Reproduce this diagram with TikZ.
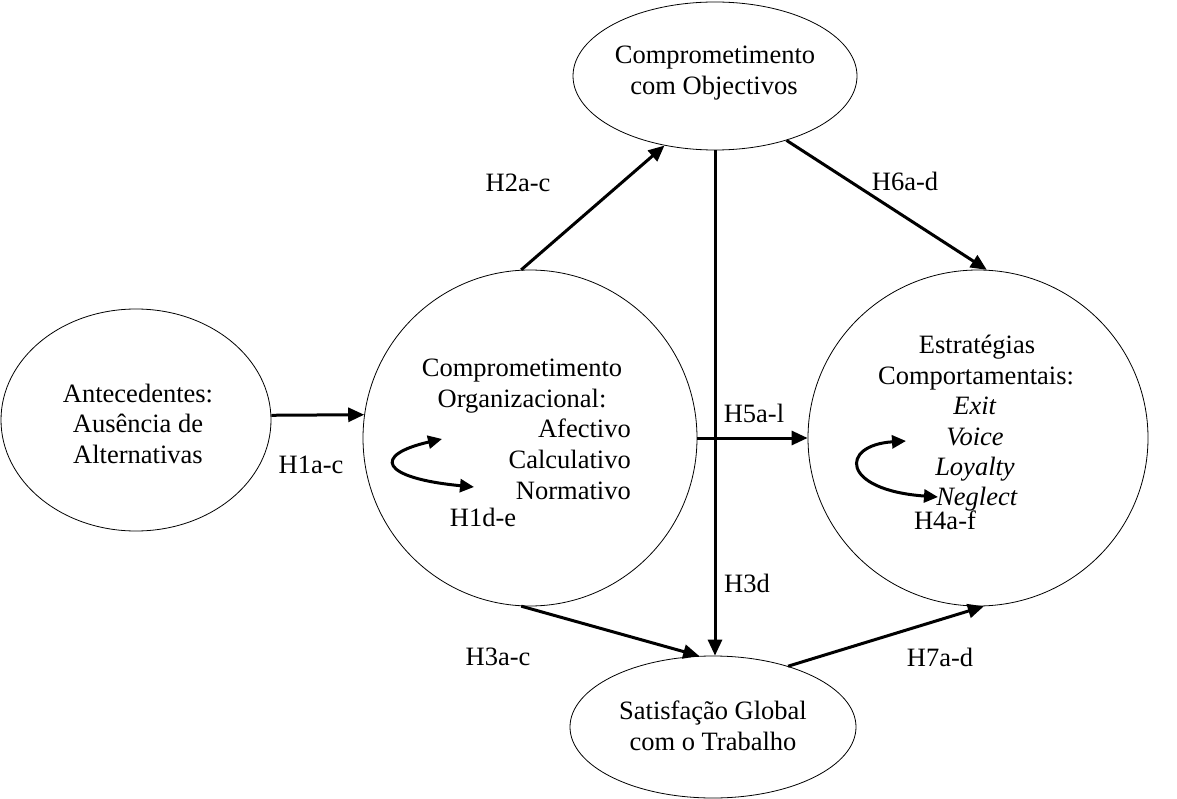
\documentclass[tikz,border=0pt]{standalone}
\usepackage{fontspec}
\setmainfont{Liberation Serif}
\usetikzlibrary{shapes.geometric,arrows.meta}
\begin{document}
\begin{tikzpicture}[x=1pt,y=-1pt,
  bubble/.style={draw, ellipse, line width=0.8pt, inner sep=0pt},
  txt/.style={font=\fontsize{26.5}{31}\selectfont, inner sep=0pt, anchor=base},
  hyp/.style={font=\fontsize{26.5}{31}\selectfont, inner sep=0pt},
  link/.style={line width=3pt, -{Triangle[length=16pt,width=14pt]}},
  swap/.style={line width=3pt, {Triangle[length=14pt,width=13pt]}-{Triangle[length=14pt,width=13pt]}}]
\useasboundingbox (0,0) rectangle (1177,799);

% constructs
\node[bubble, minimum width=270pt, minimum height=222pt] (ante) at (136,420) {};
\node[bubble, minimum width=334pt, minimum height=336pt] (org) at (530,438) {};
\node[bubble, minimum width=284pt, minimum height=148pt] (obj) at (715,76) {};
\node[bubble, minimum width=340pt, minimum height=336pt] (est) at (978,438) {};
\node[bubble, minimum width=286pt, minimum height=142pt] (sat) at (713,727) {};

% texts inside the constructs
\node[txt] (a1) at (138,402) {Antecedentes:};
\node[txt] (a2) at (138,432.5) {Ausência de};
\node[txt] (a3) at (138,463) {Alternativas};

\node[txt] (o1) at (522,376) {Comprometimento};
\node[txt] (o2) at (522,407) {Organizacional:};
\node[txt, anchor=base east] (o3) at (631,437) {Afectivo};
\node[txt, anchor=base east] (o4) at (631,468) {Calculativo};
\node[txt, anchor=base east] (o5) at (631,499) {Normativo};

\node[txt] (c1) at (715,64) {Comprometimento};
\node[txt] (c2) at (714,95) {com Objectivos};

\node[txt] (e1) at (977,353) {Estratégias};
\node[txt] (e2) at (976,384) {Comportamentais:};
\node[txt] (e3) at (975,414) {\textit{Exit}};
\node[txt] (e4) at (975,445) {\textit{Voice}};
\node[txt] (e5) at (975,475) {\textit{Loyalty}};
\node[txt] (e6) at (977,505) {\textit{Neglect}};

\node[txt] (s1) at (713,719) {Satisfação Global};
\node[txt] (s2) at (713,750) {com o Trabalho};

% hypotheses
\draw[link] (ante.2) -- (org.172);
\draw[link] (org.93) -- (obj.234);
\draw[link] (obj.south) -- (obj.south |- sat.north);
\draw[link] (obj.-42) -- (est.87);
\draw[link] (org.east) -- (est.west);
\draw[link] (org.267) -- (sat.101);
\draw[link] (sat.39) -- (est.272);

% reciprocal arrows inside the constructs
\coordinate (la) at (442,439);
\coordinate (lb) at (474,487);
\draw[swap] (la) .. controls (372,455) and (380,478) .. (lb);
\coordinate (ra) at (906,441);
\coordinate (rb) at (938,497);
\draw[swap] (ra) .. controls (840,445) and (840,490) .. (rb);

% hypothesis labels
\node[hyp] (h1) at (311,465) {H1a-c};
\node[hyp] (h1b) at (483,517) {H1d-e};
\node[hyp] (h2) at (518,183) {H2a-c};
\node[hyp] (h3) at (498,657) {H3a-c};
\node[hyp] (h3b) at (747,583) {H3d};
\node[hyp] (h4) at (945,520) {H4a-f};
\node[hyp] (h5) at (754,413) {H5a-l};
\node[hyp] (h6) at (905,181) {H6a-d};
\node[hyp] (h7) at (940,657) {H7a-d};
\end{tikzpicture}
\end{document}
